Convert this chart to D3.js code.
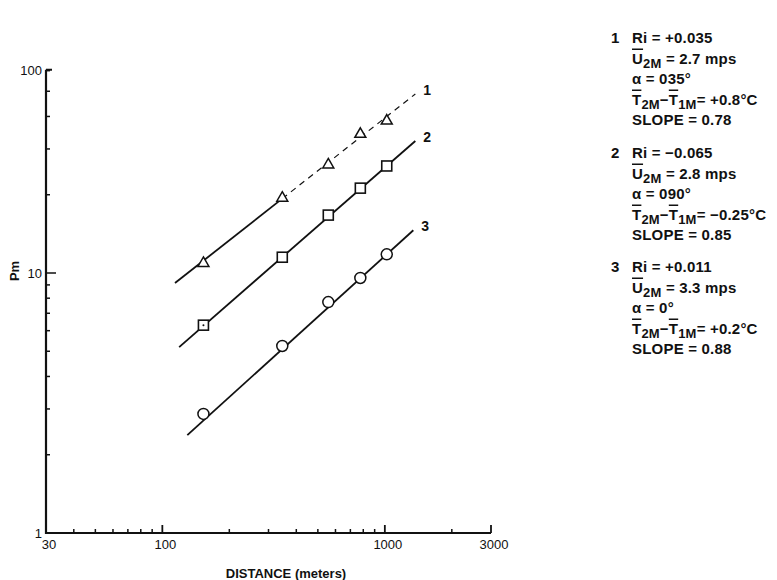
<!DOCTYPE html>
<html>
<head>
<meta charset="utf-8">
<script src="https://cdn.jsdelivr.net/npm/d3@7"></script>
<style>
  body { margin: 0; background: #fff; }
  text { font-family: "Liberation Sans", Arial, sans-serif; fill: #111; }
</style>
</head>
<body>
<div class="container"></div>
<script>
// data
var distance = [153, 346, 557, 776, 1020];
var pm1 = [11.0, 19.6, 26.3, 34.5, 38.8];   // triangles
var pm2 = [6.3, 11.5, 16.7, 21.2, 25.8];    // squares
var pm3 = [2.87, 5.24, 7.73, 9.57, 11.8];   // circles

// fitted lines, start and end points [distance, Pm]
var fit1 = [[114, 9.15], [1371, 48.8]];
var fit2 = [[119, 5.19], [1371, 32.2]];
var fit3 = [[129.5, 2.38], [1343, 14.6]];
var lineLabels = ['1', '2', '3'];

var xTicksMajor = [30, 100, 1000, 3000];
var xTicksMinor = [40, 50, 60, 70, 80, 90, 200, 300, 400, 500, 600, 700, 800, 900, 2000];
var yTicksMinor = [2, 3, 4, 5, 6, 7, 8, 9, 20, 30, 40, 50, 60];
var yTop = 60.5;   // axis is cut off here, labelled 100

// legend lines: [text, kind] kind n = normal, o = overline, s = subscript
var legend1 = [
    [['Ri = +0.035', 'n']],
    [['U', 'o'], ['2M', 's'], [' = 2.7 mps', 'n']],
    [['α = 035°', 'n']],
    [['T', 'o'], ['2M', 's'], ['−', 'n'], ['T', 'o'], ['1M', 's'], ['= +0.8°C', 'n']],
    [['SLOPE = 0.78', 'n']]
];
var legend2 = [
    [['Ri = −0.065', 'n']],
    [['U', 'o'], ['2M', 's'], [' = 2.8 mps', 'n']],
    [['α = 090°', 'n']],
    [['T', 'o'], ['2M', 's'], ['−', 'n'], ['T', 'o'], ['1M', 's'], ['= −0.25°C', 'n']],
    [['SLOPE = 0.85', 'n']]
];
var legend3 = [
    [['Ri = +0.011', 'n']],
    [['U', 'o'], ['2M', 's'], [' = 3.3 mps', 'n']],
    [['α = 0°', 'n']],
    [['T', 'o'], ['2M', 's'], ['−', 'n'], ['T', 'o'], ['1M', 's'], ['= +0.2°C', 'n']],
    [['SLOPE = 0.88', 'n']]
];

const WIDTH = 777;
const HEIGHT = 580;

var svg = d3.select('.container').append('svg')
    .attr('width', WIDTH)
    .attr('height', HEIGHT);

var xScale = d3.scaleLog().domain([30, 3000]).range([46, 491]);
var yScale = d3.scaleLog().domain([1, 100]).range([533, 13]);

var axes = svg.append('g').attr('stroke', '#111').attr('fill', 'none');

// axis lines
axes.append('path')
    .attr('stroke-width', 2.2)
    .attr('d', 'M' + xScale(30) + ',' + yScale(yTop) + 'V' + yScale(1) + 'H' + xScale(3000));

// x ticks point up into the plot
axes.selectAll('.xmin').data(xTicksMinor).enter().append('line')
    .attr('x1', function (d) { return xScale(d); })
    .attr('x2', function (d) { return xScale(d); })
    .attr('y1', yScale(1)).attr('y2', yScale(1) - 4)
    .attr('stroke-width', 1.5);
axes.selectAll('.xmaj').data(xTicksMajor.slice(1)).enter().append('line')
    .attr('x1', function (d) { return xScale(d); })
    .attr('x2', function (d) { return xScale(d); })
    .attr('y1', yScale(1)).attr('y2', yScale(1) - 8)
    .attr('stroke-width', 1.8);

// y ticks point right into the plot
axes.selectAll('.ymin').data(yTicksMinor).enter().append('line')
    .attr('x1', xScale(30)).attr('x2', xScale(30) + 4)
    .attr('y1', function (d) { return yScale(d); })
    .attr('y2', function (d) { return yScale(d); })
    .attr('stroke-width', 1.5);
axes.append('line')
    .attr('x1', xScale(30)).attr('x2', xScale(30) + 10)
    .attr('y1', yScale(10)).attr('y2', yScale(10))
    .attr('stroke-width', 1.5);
axes.append('line')
    .attr('x1', xScale(30)).attr('x2', xScale(30) + 6)
    .attr('y1', yScale(yTop)).attr('y2', yScale(yTop))
    .attr('stroke-width', 2);

// tick labels
svg.selectAll('.xlab').data(xTicksMajor).enter().append('text')
    .attr('x', function (d) { return xScale(d) + 3; })
    .attr('y', 549)
    .attr('text-anchor', 'middle')
    .style('font-size', '13px')
    .text(function (d) { return d; });

var yLabels = [[1, '1'], [10, '10'], [yTop, '100']];
svg.selectAll('.ylab').data(yLabels).enter().append('text')
    .attr('x', xScale(30) - 4)
    .attr('y', function (d) { return yScale(d[0]) + 5; })
    .attr('text-anchor', 'end')
    .style('font-size', '13px')
    .text(function (d) { return d[1]; });

svg.append('text')
    .attr('x', 286).attr('y', 578)
    .attr('text-anchor', 'middle')
    .style('font-size', '13px').style('font-weight', 'bold')
    .text('DISTANCE (meters)');

svg.append('text')
    .attr('transform', 'translate(19,271) rotate(-90)')
    .attr('text-anchor', 'middle')
    .style('font-size', '13px').style('font-weight', 'bold')
    .text('Pm');

// fitted lines
var line = d3.line()
    .x(function (d) { return xScale(d[0]); })
    .y(function (d) { return yScale(d[1]); });

var g = svg.append('g').attr('fill', 'none').attr('stroke', '#111').attr('stroke-width', 1.8);

// line 1 is solid up to the second point, dashed after it
var x0 = xScale(fit1[0][0]), y0 = yScale(fit1[0][1]);
var x1 = xScale(fit1[1][0]), y1 = yScale(fit1[1][1]);
var xs = xScale(distance[1]);
var ys = y0 + (y1 - y0) * (xs - x0) / (x1 - x0);
g.append('path').attr('d', 'M' + x0 + ',' + y0 + 'L' + xs + ',' + ys);
g.append('path').attr('d', 'M' + xs + ',' + ys + 'L' + x1 + ',' + y1)
    .attr('stroke-width', 1.2)
    .attr('stroke-dasharray', '6,5');

g.append('path').attr('d', line(fit2));
g.append('path').attr('d', line(fit3));

svg.selectAll('.linelab').data([fit1, fit2, fit3]).enter().append('text')
    .attr('x', function (d) { return xScale(d[1][0]) + 8; })
    .attr('y', function (d) { return yScale(d[1][1]) + 1; })
    .style('font-size', '14px').style('font-weight', 'bold')
    .text(function (d, i) { return lineLabels[i]; });

// markers
var tri = d3.symbol().type(d3.symbolTriangle).size(52);
g.selectAll('.tri').data(pm1).enter().append('path')
    .attr('d', tri)
    .attr('fill', '#fff').attr('stroke-width', 1.5)
    .attr('transform', function (d, i) { return 'translate(' + xScale(distance[i]) + ',' + (yScale(d) + 1) + ')'; });

g.selectAll('.sq').data(pm2).enter().append('rect')
    .attr('x', function (d, i) { return xScale(distance[i]) - 5; })
    .attr('y', function (d) { return yScale(d) - 5; })
    .attr('width', 10).attr('height', 10)
    .attr('fill', '#fff').attr('stroke-width', 1.6);
g.append('circle')
    .attr('cx', xScale(distance[0])).attr('cy', yScale(pm2[0]))
    .attr('r', 1).attr('fill', '#111').attr('stroke', 'none');

g.selectAll('.circ').data(pm3).enter().append('circle')
    .attr('cx', function (d, i) { return xScale(distance[i]); })
    .attr('cy', function (d) { return yScale(d); })
    .attr('r', 5.5)
    .attr('fill', '#fff').attr('stroke-width', 1.5);

// legend blocks
var drawLegend = function (num, rows, top) {
    var lg = svg.append('g').style('font-size', '15px').style('font-weight', 'bold')
        .style('letter-spacing', '0.2px');
    lg.append('text').attr('x', 611).attr('y', top).text(num);
    rows.forEach(function (row, r) {
        var t = lg.append('text').attr('x', 632).attr('y', top + r * 20.5);
        var shifted = false;
        row.forEach(function (seg) {
            var ts = t.append('tspan').text(seg[0]);
            if (seg[1] === 's') {
                ts.attr('dy', shifted ? 0 : 4).style('font-size', '13px');
                shifted = true;
            } else {
                if (shifted) ts.attr('dy', -4);
                shifted = false;
                if (seg[1] === 'o') ts.style('text-decoration', 'overline');
            }
        });
    });
};

drawLegend('1', legend1, 43);
drawLegend('2', legend2, 158);
drawLegend('3', legend3, 272);
</script>
</body>
</html>
